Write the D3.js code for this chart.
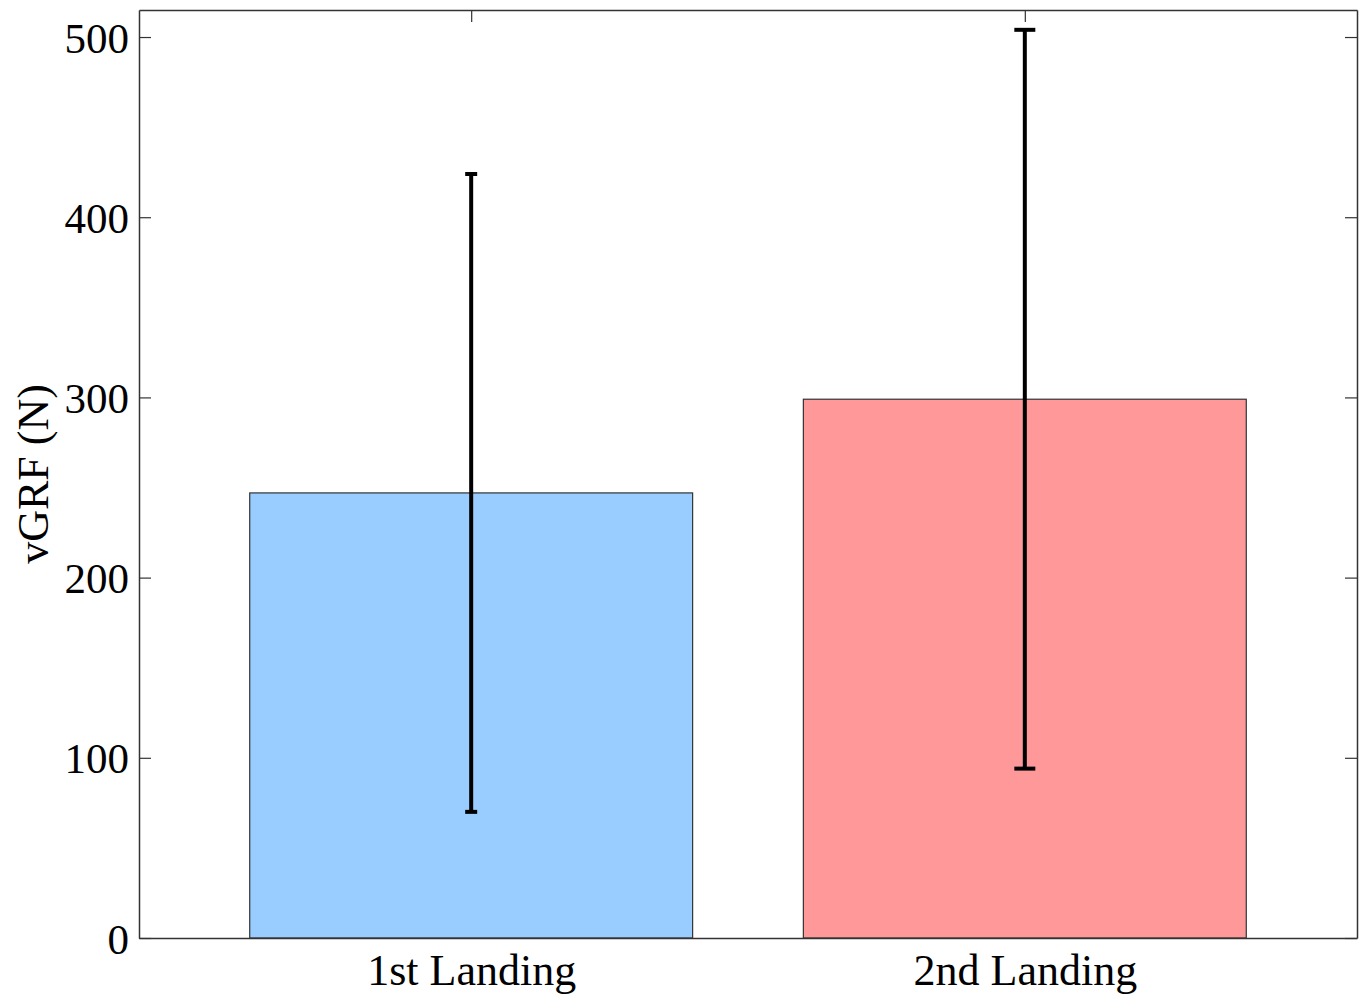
<!DOCTYPE html>
<html>
<head>
<meta charset="utf-8">
<script src="https://cdn.jsdelivr.net/npm/d3@7"></script>
<style>
  html, body { margin: 0; padding: 0; background: #fff; }
  svg { display: block; }
  text { font-family: "Liberation Serif", "Times New Roman", serif; fill: #000; }
</style>
</head>
<body>
<svg id="chart" width="1363" height="998"></svg>
<script>
// Peak vertical ground reaction force per landing (mean ± SD)
const categories = ["1st Landing", "2nd Landing"];
const means = [247, 299];
const lower = [70, 94];
const upper = [424, 504];
const yTicks = [0, 100, 200, 300, 400, 500];

const barColors = ["#99ccff", "#ff9999"];
const capWidths = [12, 21];

const W = 1363, H = 998;
const m = { left: 139, right: 6, top: 10, bottom: 60 };
const svg = d3.select("#chart");

const x = d3.scaleLinear().domain([0.4, 2.6]).range([m.left, W - m.right]);
const y = d3.scaleLinear().domain([0, 515]).range([H - m.bottom, m.top]);
const barW = x(1.4) - x(0.6);
const pos = categories.map((c, i) => i + 1);

// axes (box with inward ticks); bottom ticks sit under the bars
const tickLen = 12;
const axisColor = "#333";
const yAxisL = d3.axisLeft(y).tickValues(yTicks).tickSizeInner(-tickLen).tickSizeOuter(0).tickPadding(10);
const gyl = svg.append("g").attr("transform", `translate(${m.left},0)`).call(yAxisL);
gyl.selectAll("text").attr("font-size", 43).attr("dy", "0.35em");

const yAxisR = d3.axisRight(y).tickValues(yTicks).tickSizeInner(-tickLen).tickSizeOuter(0).tickFormat("");
svg.append("g").attr("transform", `translate(${W - m.right},0)`).call(yAxisR);

const xAxisT = d3.axisTop(x).tickValues(pos).tickSizeInner(-tickLen).tickSizeOuter(0).tickFormat("");
svg.append("g").attr("transform", `translate(0,${m.top})`).call(xAxisT);

// bars
svg.append("g").selectAll("rect").data(categories).join("rect")
  .attr("x", (d, i) => x(pos[i]) - barW / 2)
  .attr("y", (d, i) => y(means[i]))
  .attr("width", barW)
  .attr("height", (d, i) => y(0) - y(means[i]))
  .attr("fill", (d, i) => barColors[i])
  .attr("stroke", "#333")
  .attr("stroke-width", 1.2);

const xAxisB = d3.axisBottom(x).tickValues(pos).tickSize(0).tickPadding(16)
  .tickFormat((d, i) => categories[i]);
const gxb = svg.append("g").attr("transform", `translate(0,${y(0)})`).call(xAxisB);
gxb.selectAll("text").attr("font-size", 44).attr("dy", "0.71em");

// error bars
const eb = svg.append("g").attr("stroke", "#000").attr("stroke-width", 4);
categories.forEach((c, i) => {
  const cx = x(pos[i]);
  eb.append("line").attr("x1", cx).attr("x2", cx).attr("y1", y(lower[i])).attr("y2", y(upper[i]));
  [lower[i], upper[i]].forEach(v => {
    eb.append("line")
      .attr("x1", cx - capWidths[i] / 2).attr("x2", cx + capWidths[i] / 2)
      .attr("y1", y(v)).attr("y2", y(v));
  });
});

svg.selectAll(".domain").attr("stroke", axisColor).attr("stroke-width", 1.5);
svg.selectAll(".tick line").attr("stroke", axisColor).attr("stroke-width", 1.2);
svg.selectAll(".tick text").attr("fill", "#000").attr("font-family", "Liberation Serif, Times New Roman, serif");

// y-axis title
svg.append("text")
  .attr("transform", `translate(48,${(y(0) + m.top) / 2}) rotate(-90)`)
  .attr("text-anchor", "middle")
  .attr("font-size", 44)
  .text("vGRF (N)");
</script>
</body>
</html>
